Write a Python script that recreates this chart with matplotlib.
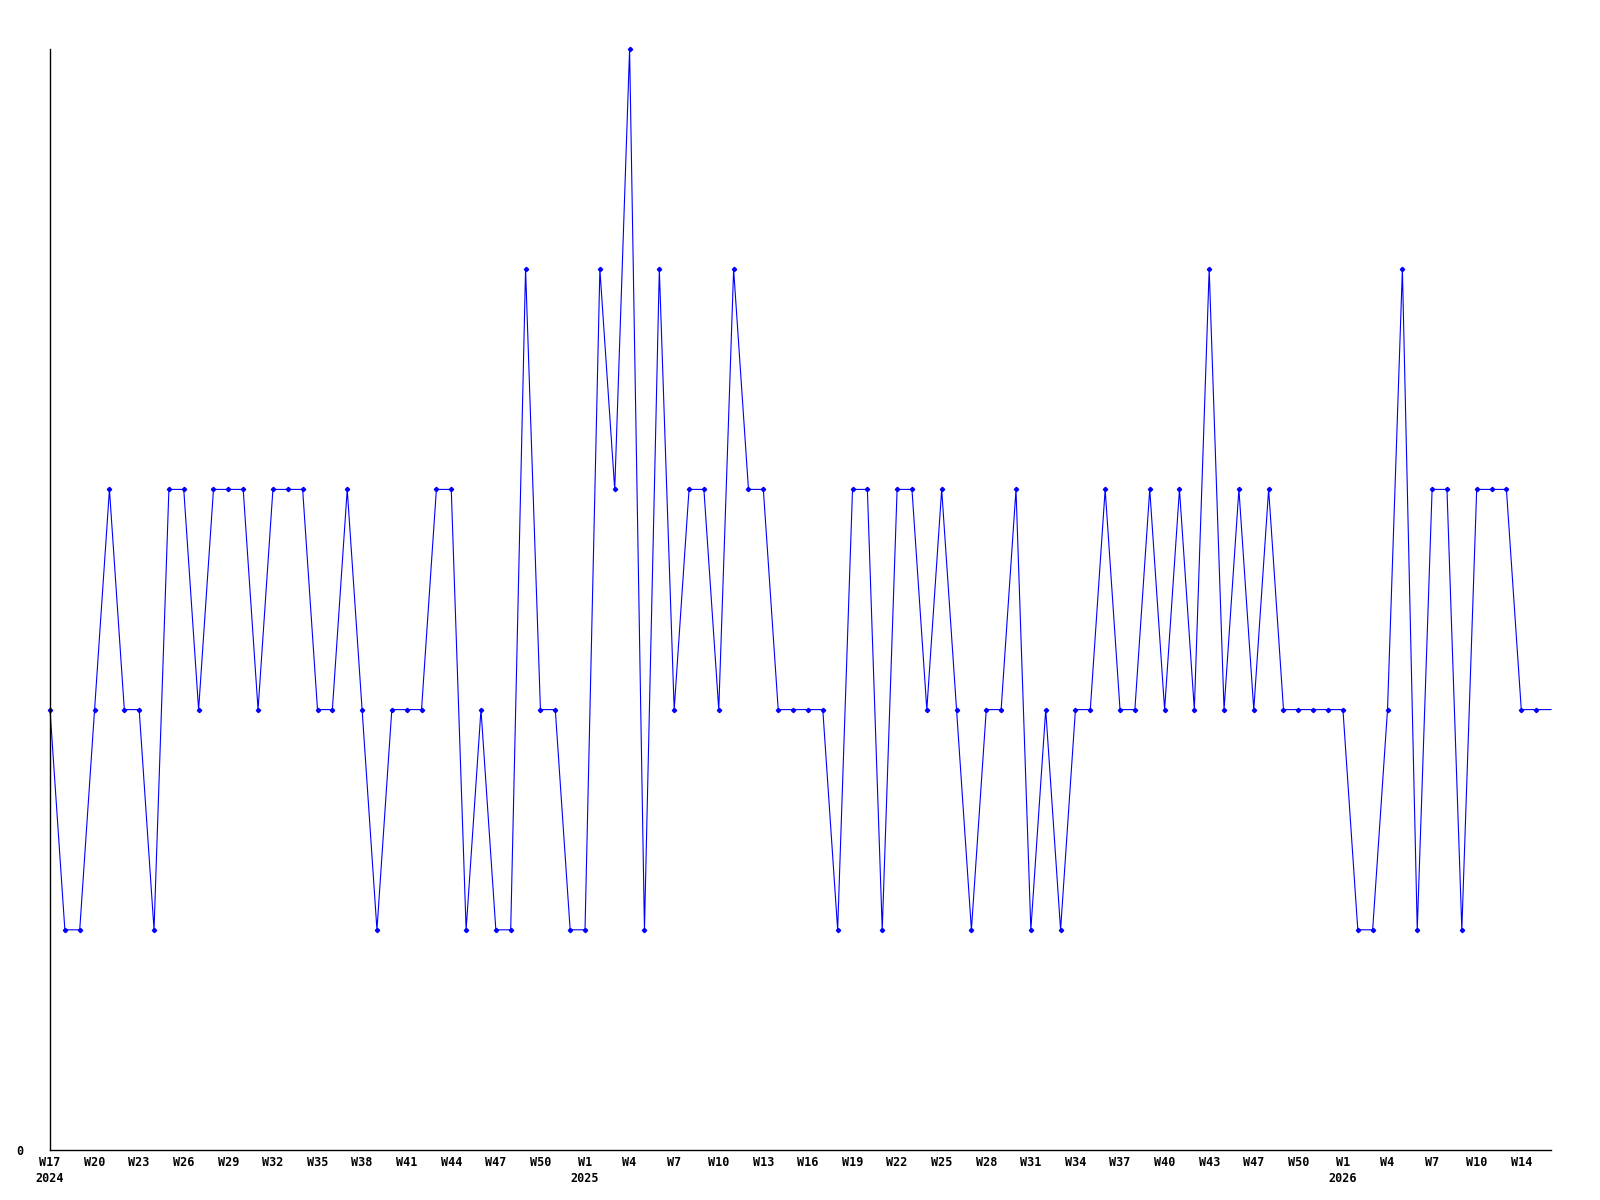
import matplotlib
matplotlib.use("Agg")
import matplotlib.pyplot as plt

# weekly values, starting at W17 2024
values = [2, 1, 1, 2, 3, 2, 2, 1, 3, 3,
          2, 3, 3, 3, 2, 3, 3, 3, 2, 2,
          3, 2, 1, 2, 2, 2, 3, 3, 1, 2,
          1, 1, 4, 2, 2, 1, 1, 4, 3, 5,
          1, 4, 2, 3, 3, 2, 4, 3, 3, 2,
          2, 2, 2, 1, 3, 3, 1, 3, 3, 2,
          3, 2, 1, 2, 2, 3, 1, 2, 1, 2,
          2, 3, 2, 2, 3, 2, 3, 2, 4, 2,
          3, 2, 3, 2, 2, 2, 2, 2, 1, 1,
          2, 4, 1, 3, 3, 1, 3, 3, 3, 2,
          2, 2]

week_labels = ["W17", "W20", "W23", "W26", "W29", "W32", "W35", "W38", "W41",
               "W44", "W47", "W50",
               "W1", "W4", "W7", "W10", "W13", "W16", "W19", "W22", "W25",
               "W28", "W31", "W34", "W37", "W40", "W43", "W47", "W50",
               "W1", "W4", "W7", "W10", "W14"]
year_labels = {0: "2024", 12: "2025", 29: "2026"}

fig = plt.figure(figsize=(16, 12), dpi=100)
ax = fig.add_axes([50 / 1600, 1 - 1150 / 1200, 1501 / 1600, 1101 / 1200])

x = list(range(len(values)))
ax.plot(x, values, color="#0000ff", linewidth=0.8, clip_on=False)
ax.plot(x[:-1], values[:-1], linestyle="none", marker="D", markersize=2.2,
        color="#0000ff", clip_on=False)

ax.set_xlim(0, len(values) - 1)
ax.set_ylim(0, 5)

ticks = list(range(0, 3 * len(week_labels), 3))
labels = []
for k, w in enumerate(week_labels):
    labels.append(w + "\n" + year_labels[k] if k in year_labels else w)
ax.set_xticks(ticks)
ax.set_xticklabels(labels, fontfamily="DejaVu Sans Mono", fontweight="bold",
                   fontsize=8.5, linespacing=1.35)
ax.tick_params(axis="x", length=0, pad=4)
ax.set_yticks([0])
ax.set_yticklabels(["0"], fontfamily="DejaVu Sans Mono", fontweight="bold",
                   fontsize=8.5)
ax.tick_params(axis="y", length=0, pad=19)

for side in ("top", "right"):
    ax.spines[side].set_visible(False)
for side in ("left", "bottom"):
    ax.spines[side].set_linewidth(1.0)

fig.savefig("out.png", dpi=100)
